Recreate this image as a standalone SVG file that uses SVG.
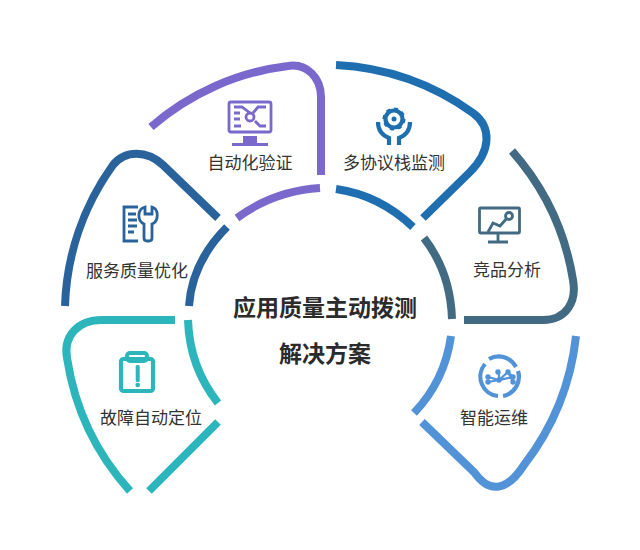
<svg xmlns="http://www.w3.org/2000/svg" width="640" height="550" viewBox="0 0 640 550">
<style>
.a{fill:none;stroke-width:8}
.i{fill:none;stroke-width:2.8}
.w{fill:none;stroke-width:4.200}
.t{font-family:"Noto Sans CJK SC","Liberation Sans",sans-serif;font-size:17px;fill:#333;text-anchor:middle}
.h{font-family:"Noto Sans CJK SC","Liberation Sans",sans-serif;font-size:23px;font-weight:700;fill:#2b2b2b;text-anchor:middle}
</style>
<rect width="640" height="550" fill="#fff"/>
<g id="connectors">
<path class="a" stroke="#7b68cd" d="M151 127A256 256 0 0 1 288 66C307 63 321 78 321 97V175"/>
<path class="a" stroke="#7b68cd" d="M320 188C288 190 260 201 237 218"/>
<path class="a" stroke="#2a639c" d="M65 306A256 256 0 0 1 113 165C125 150 147 150 163 165L218 218"/>
<path class="a" stroke="#2a639c" d="M227 227C205 249 191 276 189 306"/>
<path class="a" stroke="#1f6eb0" d="M336 65A256 256 0 0 1 473 113C492 127 491 151 470 172L423 218"/>
<path class="a" stroke="#1f6eb0" d="M336 189C364 193 391 206 413 227"/>
<path class="a" stroke="#426b83" d="M512 151A256 256 0 0 1 573 280C577 302 566 320 543 320H464"/>
<path class="a" stroke="#426b83" d="M424 238C441 260 451 288 452 319"/>
<path class="a" stroke="#2cb5bb" d="M175 320H102C78 320 63 336 67 358A256 256 0 0 0 130 491"/>
<path class="a" stroke="#2cb5bb" d="M188 320C189 351 199 379 218 403"/>
<path class="a" stroke="#2cb5bb" d="M218 422L149 491"/>
<path class="a" stroke="#5293d8" d="M576 336A256 256 0 0 1 524 465C508 490 490 495 474 472L422 422"/>
<path class="a" stroke="#5293d8" d="M451 336C447 365 435 391 414 413"/>
</g>
<g id="node-verify">
<g class="i" stroke="#7b68cd">
<rect x="229" y="102" width="42" height="30" rx="2"/>
<path d="M234 107H242L250 113M266 107H258L253 113M255 121L260 126H266M234 113H240M234 119H240M234 126H241"/>
<circle cx="250" cy="117" r="4"/>
</g>
<rect x="243" y="136" width="14" height="7" fill="#7b68cd"/>
<rect x="232" y="143" width="36" height="3" fill="#7b68cd"/>
<text class="t" x="250" y="169">自动化验证</text>
</g>
<g id="node-protocol">
<g class="w" stroke="#1f6eb0">
<circle cx="394" cy="119" r="8.500"/>
<circle cx="394" cy="119" r="10.500" stroke-width="2" stroke-dasharray="4 4.200"/>
<path d="M378 122C378 132 384 136 389 138V145M410 122C410 132 404 136 399 138V145"/>
</g>
<circle cx="394" cy="119" r="2.500" fill="#1f6eb0"/>
<text class="t" x="394" y="169">多协议栈监测</text>
</g>
<g id="node-compete">
<g class="i" stroke="#426b83">
<rect x="479.500" y="208" width="40" height="25" rx="1"/>
<path d="M488 232L493 223L500 226L507 218"/>
<circle cx="509" cy="216" r="3.500" fill="#fff"/>
<path d="M498 233V241M488 242H508"/>
</g>
<text class="t" x="507" y="276">竞品分析</text>
</g>
<g id="node-service">
<g class="i" stroke="#2a639c">
<path d="M138 207H124V241H138"/>
<path d="M145 207C137 209 137 221 144 224V238Q144 241 147 241H149Q152 241 152 238V224C159 221 159 209 152 207V214H145Z"/>
<path d="M128 214H136M128 220H137M128 226H137M128 232H134"/>
</g>
<text class="t" x="137" y="277">服务质量优化</text>
</g>
<g id="node-fault">
<g class="w" stroke="#2cb5bb">
<rect x="121" y="359" width="32" height="32" rx="2.500"/>
<rect x="127" y="353" width="20" height="8" rx="3"/>
</g>
<rect x="135.700" y="365" width="4" height="17" rx="1.500" fill="#2cb5bb"/>
<circle cx="137.700" cy="385" r="2.300" fill="#2cb5bb"/>
<text class="t" x="151" y="424">故障自动定位</text>
</g>
<g id="node-ops">
<path class="w" stroke="#5293d8" d="M489 359A19.500 19.500 0 0 1 516 367M485 364A19.500 19.500 0 0 0 498 396M503 396A19.500 19.500 0 0 0 518 371"/>
<path d="M488 377L499 380L513 377M488 382L499 380M499 372L499 380L508 372L513 377M508 372L513 382" fill="none" stroke="#5293d8" stroke-width="2.200"/>
<g fill="#5293d8">
<circle cx="488" cy="377" r="2.700"/><circle cx="488" cy="382" r="2.700"/><circle cx="498" cy="372" r="2.700"/><circle cx="499" cy="380" r="2.700"/><circle cx="508" cy="372" r="2.700"/><circle cx="513" cy="377" r="2.700"/><circle cx="513" cy="382" r="2.700"/>
</g>
<text class="t" x="494" y="424">智能运维</text>
</g>
<g id="node-center">
<text class="h" x="325" y="316">应用质量主动拨测</text>
<text class="h" x="325" y="362">解决方案</text>
</g>
</svg>
